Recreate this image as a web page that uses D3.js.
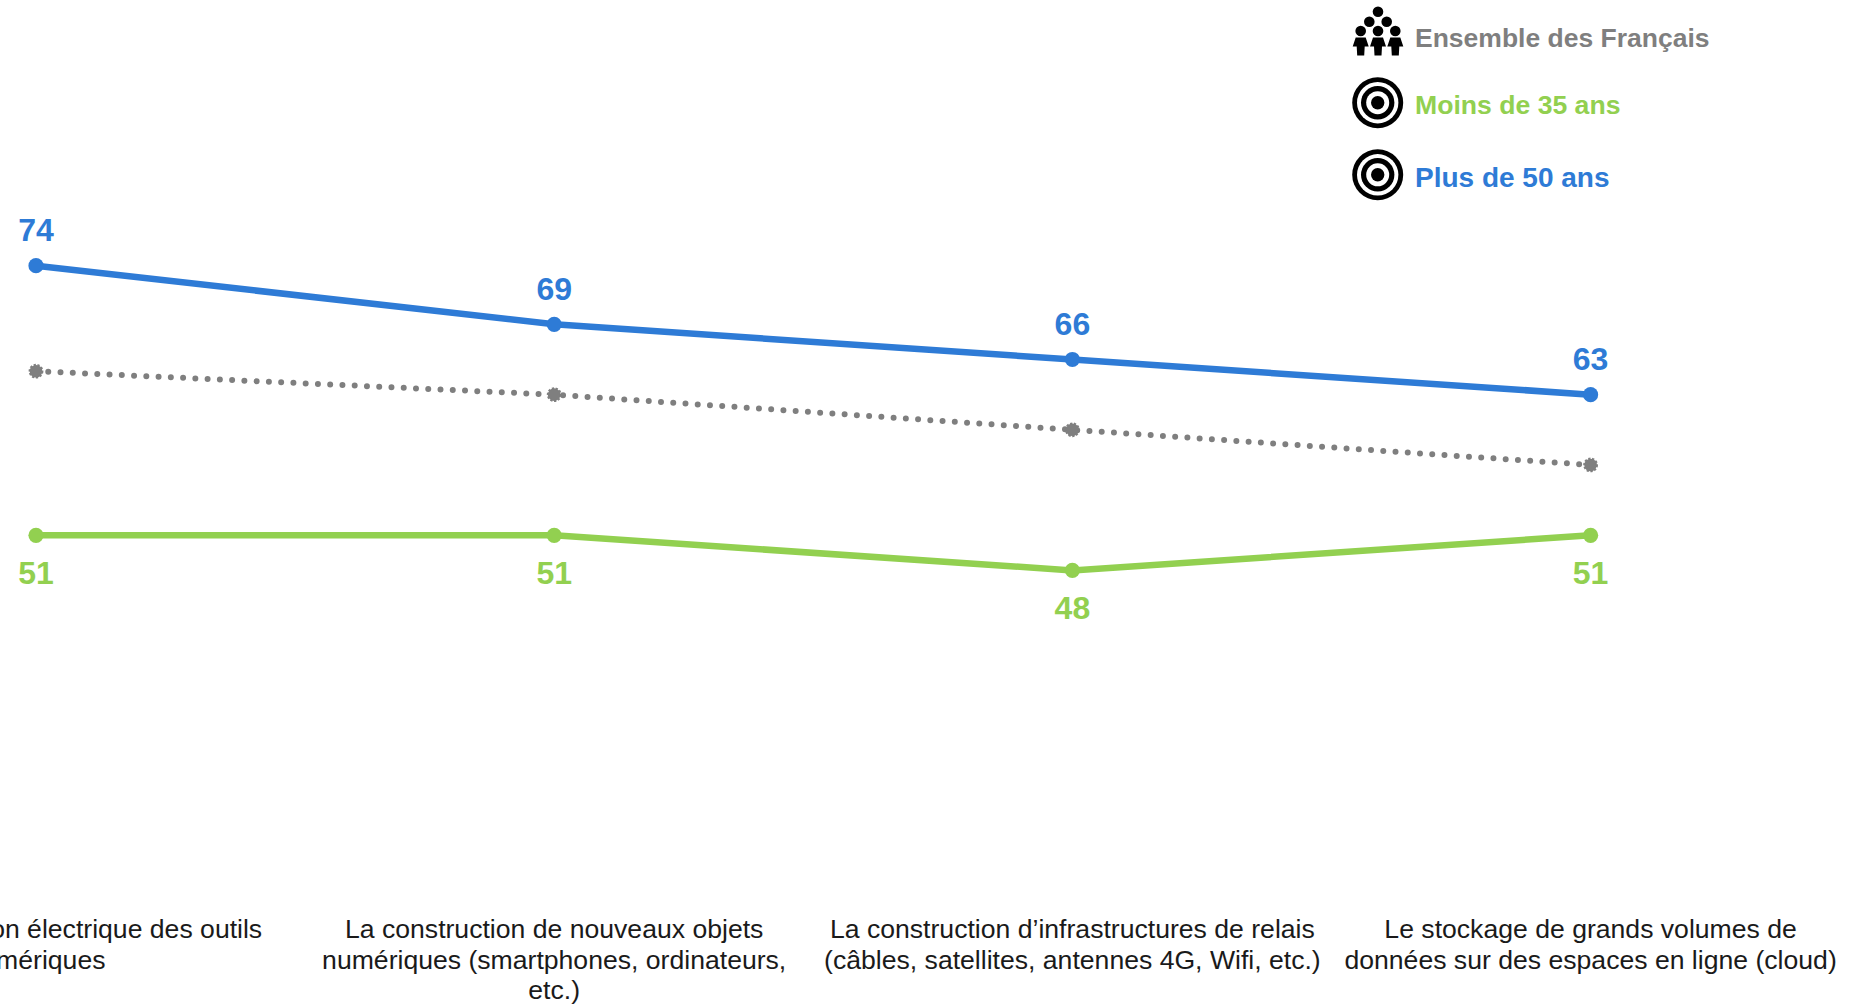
<!DOCTYPE html>
<html lang="fr">
<head>
<meta charset="utf-8">
<style>
  html, body { margin: 0; background: #fff; }
  svg { display: block; font-family: "Liberation Sans", Arial, sans-serif; }
</style>
<script src="https://cdn.jsdelivr.net/npm/d3@7"></script>
</head>
<body>
<svg id="chart" width="1864" height="1006"></svg>
<script>
const categories = [
  ['La consommation électrique des outils', 'numériques'],
  ['La construction de nouveaux objets', 'numériques (smartphones, ordinateurs,', 'etc.)'],
  ['La construction d’infrastructures de relais', '(câbles, satellites, antennes 4G, Wifi, etc.)'],
  ['Le stockage de grands volumes de', 'données sur des espaces en ligne (cloud)']
];
const ensemble = [65, 63, 60, 57];
const moins35  = [51, 51, 48, 51];
const plus50   = [74, 69, 66, 63];

const GREY = '#7f7f7f', GREEN = '#92d050', BLUE = '#2e7bd6';

const svg = d3.select('#chart');
const x = d3.scalePoint().domain(d3.range(categories.length)).range([36, 1590.6]);
const y = d3.scaleLinear().domain([40, 80]).range([664.2, 195.4]);
const line = d3.line().x((d, i) => x(i)).y(d => y(d));

function drawSeries(values, color, width, dash, r, labelDy) {
  const g = svg.append('g');
  g.append('path').datum(values)
    .attr('d', line).attr('fill', 'none')
    .attr('stroke', color).attr('stroke-width', width)
    .attr('stroke-dasharray', dash).attr('stroke-linecap', dash ? 'round' : 'butt');
  const dots = g.selectAll('circle').data(values).join('circle')
    .attr('cx', (d, i) => x(i)).attr('cy', d => y(d))
    .attr('r', r).attr('fill', color);
  // dotted series also gets a dotted edge on its markers
  if (dash) dots.attr('stroke', color).attr('stroke-width', 2.2).attr('stroke-dasharray', '2.2 1.6');
  if (labelDy === null) return;
  g.selectAll('text').data(values).join('text')
    .attr('x', (d, i) => x(i)).attr('y', d => y(d) + labelDy)
    .attr('text-anchor', 'middle')
    .attr('font-size', 32).attr('font-weight', 700)
    .attr('fill', color).text(d => d);
}

drawSeries(ensemble, GREY, 6, '0 12.27', 6.3, null);
drawSeries(moins35, GREEN, 6.5, null, 7.6, 49);
drawSeries(plus50, BLUE, 6.5, null, 7.6, -24.5);

// category labels
const labels = svg.append('g');
categories.forEach((rows, i) => {
  labels.append('text')
    .attr('text-anchor', 'middle').attr('font-size', 26.6).attr('fill', '#1a1a1a')
    .selectAll('tspan').data(rows).join('tspan')
    .attr('x', x(i)).attr('y', (d, j) => 938 + j * 30.5).text(d => d);
});

// legend
const legendItems = ['Ensemble des Français', 'Moins de 35 ans', 'Plus de 50 ans'];
const legendColors = [GREY, GREEN, BLUE];
const legendSizes = [26.5, 26.6, 28];
const legendBase = [47, 114, 187];

const legend = svg.append('g');
legend.selectAll('text').data(legendItems).join('text')
  .attr('x', 1415).attr('y', (d, i) => legendBase[i])
  .attr('font-size', (d, i) => legendSizes[i]).attr('font-weight', 700)
  .attr('fill', (d, i) => legendColors[i]).text(d => d);

// target icons
[102.7, 174.8].forEach(cy => {
  const t = legend.append('g').attr('transform', `translate(1377.7,${cy})`);
  t.append('circle').attr('r', 25.5).attr('fill', '#000');
  t.append('circle').attr('r', 20.7).attr('fill', '#fff');
  t.append('circle').attr('r', 16.7).attr('fill', '#000');
  t.append('circle').attr('r', 11.5).attr('fill', '#fff');
  t.append('circle').attr('r', 6.7).attr('fill', '#000');
});

// people icon
const people = legend.append('g').attr('transform', 'translate(1378,0)');
[[0, 11.7], [-8.7, 21.7], [8.7, 21.7]].forEach(p =>
  people.append('circle').attr('cx', p[0]).attr('cy', p[1]).attr('r', 5.3));
[-17.3, 0, 17.3].forEach(px => {
  people.append('circle').attr('cx', px).attr('cy', 31).attr('r', 5.3);
  people.append('path')
    .attr('transform', `translate(${px},0)`)
    .attr('d', 'M-5,37.5 L5,37.5 L8,46.5 L4,46.5 L3.5,55.5 L-3.5,55.5 L-4,46.5 L-8,46.5 Z');
});
</script>
</body>
</html>
